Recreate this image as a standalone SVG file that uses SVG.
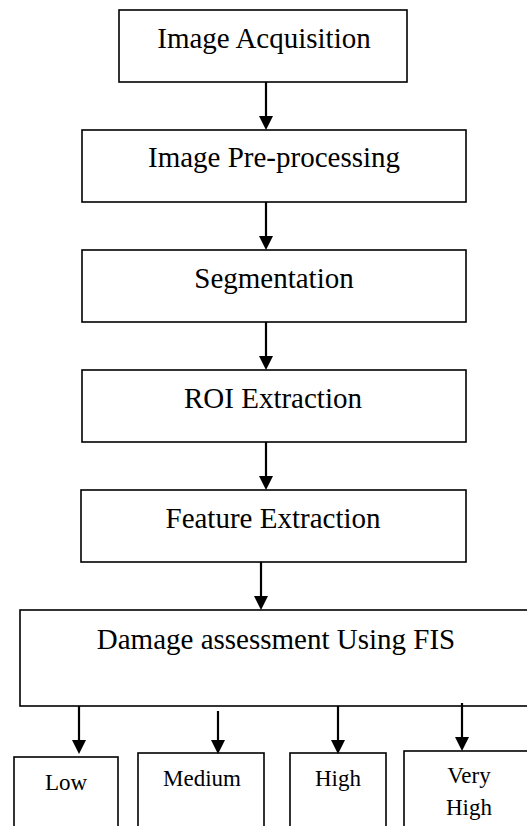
<svg xmlns="http://www.w3.org/2000/svg" width="527" height="826" viewBox="0 0 527 826">
<style>
rect{fill:#fff;stroke:#000;stroke-width:1.6}
text{font-family:"Liberation Serif","Times New Roman",serif;fill:#000;text-anchor:middle}
.t{font-size:29px}
.s{font-size:23px}
.c line{stroke:#000;stroke-width:2.2}
.c polygon{fill:#000}
</style>
<rect x="0" y="0" width="527" height="826" style="stroke:none"/>
<g id="n1"><rect x="119" y="10" width="288" height="72"/><text class="t" x="264" y="48">Image Acquisition</text></g>
<g id="n2"><rect x="82" y="130" width="384" height="72"/><text class="t" x="274" y="167">Image Pre-processing</text></g>
<g id="n3"><rect x="82" y="250" width="384" height="72"/><text class="t" x="274" y="288">Segmentation</text></g>
<g id="n4"><rect x="82" y="370" width="384" height="72"/><text class="t" x="273" y="408">ROI Extraction</text></g>
<g id="n5"><rect x="81" y="490" width="385" height="72"/><text class="t" x="273" y="528">Feature Extraction</text></g>
<g id="n6"><rect x="20" y="610" width="515" height="96"/><text class="t" x="276" y="649">Damage assessment Using FIS</text></g>
<g id="n7"><rect x="14" y="757" width="104" height="80"/><text class="s" x="66" y="790">Low</text></g>
<g id="n8"><rect x="138" y="753" width="126" height="84"/><text class="s" x="202" y="786">Medium</text></g>
<g id="n9"><rect x="290" y="753" width="96" height="84"/><text class="s" x="338" y="786">High</text></g>
<g id="n10"><rect x="404" y="751" width="130" height="86"/><text class="s" x="469" y="783">Very</text><text class="s" x="469" y="815">High</text></g>
<g id="connectors" class="c">
<line x1="266" y1="82" x2="266" y2="118"/><polygon points="259,116 273,116 266,130"/>
<line x1="266" y1="202" x2="266" y2="238"/><polygon points="259,236 273,236 266,250"/>
<line x1="266" y1="322" x2="266" y2="358"/><polygon points="259,356 273,356 266,370"/>
<line x1="266" y1="442" x2="266" y2="478"/><polygon points="259,476 273,476 266,490"/>
<line x1="261" y1="562" x2="261" y2="598"/><polygon points="254,596 268,596 261,610"/>
<line x1="79" y1="706" x2="79" y2="742"/><polygon points="72,740 86,740 79,754"/>
<line x1="218" y1="711" x2="218" y2="742"/><polygon points="211,740 225,740 218,754"/>
<line x1="338" y1="706" x2="338" y2="742"/><polygon points="331,740 345,740 338,754"/>
<line x1="462" y1="703" x2="462" y2="739"/><polygon points="455,737 469,737 462,751"/>
</g>
</svg>
